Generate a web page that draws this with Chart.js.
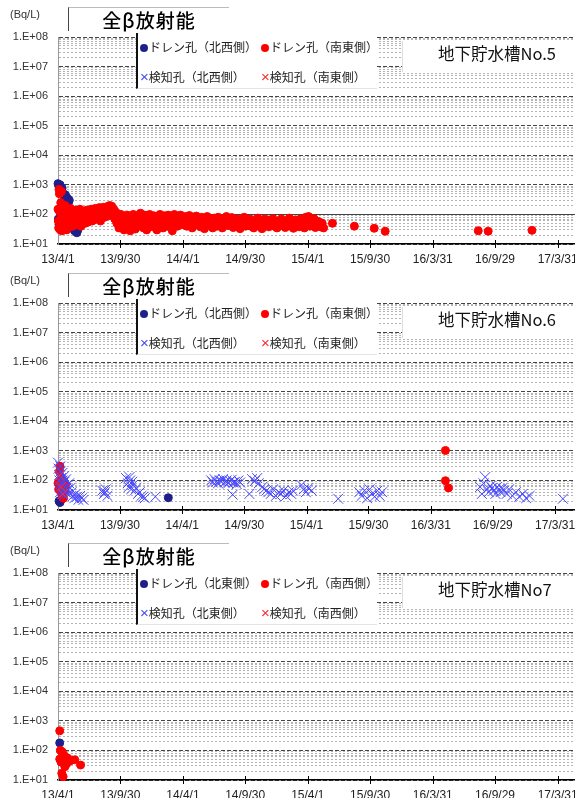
<!DOCTYPE html>
<html><head><meta charset="utf-8">
<script src="https://cdn.jsdelivr.net/npm/chart.js@4"></script>
<style>
html,body{margin:0;padding:0;background:#fff;overflow:hidden;width:575px;height:798px;position:relative;}
.panel{position:absolute;left:0;width:640px;height:268px;}
.panel canvas{position:absolute;left:0;top:0;}
.unit{position:absolute;left:10px;top:8px;font:11px "Liberation Sans",Arial,sans-serif;color:#333;}
.ttl{position:absolute;left:68px;top:7px;width:160px;height:23px;border-left:1px solid #444;border-top:1px solid #bbb;background:#fff;font:19px "Noto Sans CJK JP";font-weight:500;line-height:23px;text-align:center;color:#000;letter-spacing:1px;}
.leg{position:absolute;left:136px;top:33px;width:239px;height:55px;border-left:2px solid #111;border-bottom:1px solid #e4e4e4;background:#fff;font:12px "Noto Sans CJK JP";color:#222;}
.item{position:absolute;white-space:nowrap;line-height:16px;}
.dot{display:inline-block;width:8px;height:8px;border-radius:50%;margin:0 1px 1px 0;vertical-align:middle;}
.xm{font:15px "Liberation Sans",Arial,sans-serif;margin-right:0;}
.name{position:absolute;left:402px;top:41px;width:240px;height:31px;background:#fff;border-left:1px solid #ddd;}
.name span{position:absolute;left:35px;top:0;line-height:31px;font:16.5px "Noto Sans CJK JP";color:#111;white-space:nowrap;}
</style>
</head><body>
<script>
// ---------- data (x = days since 2013/4/1, y = Bq/L) ----------
const xTickDays   = [0, 182, 365, 547, 730, 912, 1095, 1277, 1460];
const xTickLabels = ["13/4/1","13/9/30","14/4/1","14/9/30","15/4/1","15/9/30","16/3/31","16/9/29","17/3/31"];
const yTickLabels = ["1.E+01","1.E+02","1.E+03","1.E+04","1.E+05","1.E+06","1.E+07","1.E+08"];

// 地下貯水槽No.5
const no5_drainNW = [[0,1100],[2,950],[4,800],[6,1000],[8,850],[10,700],[12,780],[15,520],[18,400],[20,300],[22,450],[25,260],[28,350],[30,240],[33,300],[36,53],[40,45],[44,35],[48,28],[52,40],[55,24],[58,30],[1,70],[3,45]];
const no5_drainSE = [[0,150],[1,60],[2,35],[3,700],[4,500],[5,120],[6,40],[7,30],[8,250],[9,80],[10,600],[11,45],[12,28],[14,170],[15,90],[16,55],[18,140],[19,35],[21,200],[22,60],[24,110],[25,30],[27,150],[28,45],[30,80],[32,130],[33,38],[35,70],[37,160],[39,50],[41,100],[43,40],[45,120],[47,60],[50,90],
[52,140],[55,45],[58,110],[61,60],[64,150],[67,40],[70,120],[73,70],[76,130],[79,50],[82,100],[85,140],[88,55],[91,120],[94,80],[97,150],[100,60],[103,130],[106,90],[109,160],[112,70],[115,140],[118,100],[121,170],[124,60],[127,150],[130,110],[133,175],[136,80],[139,160],[142,120],[145,185],[148,90],[151,200],[154,130],[157,190],[160,100],[163,150],[166,70],[169,120],
[172,50],[175,90],[178,35],[181,75],[184,100],[187,40],[190,65],[193,30],[196,85],[199,50],[202,95],[205,35],[208,70],[211,28],[214,80],[217,45],[220,100],[223,55],[226,32],[229,75],[232,90],[235,40],[238,65],[241,110],[244,50],[247,80],[250,35],[253,95],[256,60],[259,30],[262,85],[265,45],[268,100],[271,55],[274,75],[277,38],[280,90],[283,50],[286,70],[289,30],[292,85],[295,60],[298,100],[301,45],[304,75],[307,35],[310,90],[313,55],[316,70],[319,40],[322,95],[325,60],[328,80],[331,45],[334,28],[337,70],[340,100],[343,55],[346,85],[349,40],[352,75],[355,60],[358,95],[361,45],[364,70],
[368,50],[372,85],[376,40],[380,70],[384,92],[388,55],[392,35],[396,75],[400,60],[404,88],[408,45],[412,70],[416,38],[420,80],[424,55],[428,33],[432,65],[436,85],[440,45],[444,70],[448,50],[452,35],[456,75],[460,60],[464,40],[468,80],[472,50],[476,65],[480,35],[484,72],[488,55],[492,85],[496,42],[500,65],[504,50],[508,78],[512,36],[516,60],[520,45],[524,70],[528,55],[532,33],[536,65],[540,50],[544,80],[548,40],[552,60],[556,45],
[560,70],[564,40],[568,55],[572,35],[576,65],[580,50],[584,75],[588,40],[592,60],[596,33],[600,55],[604,70],[608,45],[612,60],[616,38],[620,65],[624,50],[628,72],[632,40],[636,55],[640,35],[644,60],[648,48],[652,70],[656,42],[660,55],[664,36],[668,62],[672,45],[676,75],[680,40],[684,58],[688,34],[692,65],[696,48],[700,55],[704,38],[708,70],[712,45],[716,60],[720,35],[724,80],[728,50],[732,85],[736,40],[740,65],[744,48],[748,72],[752,36],[756,60],[760,45],[764,55],[768,38],[772,50],[776,35],
[802,50],[866,40],[924,34],[956,27],[1228,28],[1257,27],[1385,29]];
const no5_checkNW = [];
const no5_checkSE = [];

// 地下貯水槽No.6
const no6_drainNW = [[3,20],[6,18],[9,22],[324,26]];
const no6_drainSE = [[0,80],[2,50],[4,200],[6,300],[8,40],[10,120],[12,30],[14,60],[16,25],[18,90],[20,45],[22,70],[1138,1030],[1138,98],[1147,56]];
const no6_checkNW = [[0,400],[2,250],[3,150],[4,100],[5,60],[6,40],[7,300],[8,200],[9,120],[10,80],[11,50],[12,35],[13,180],[14,100],[15,70],[16,45],[17,30],[18,140],[19,90],[20,60],[22,40],[24,110],[26,70],[28,50],[30,35],[33,80],[36,55],[40,40],[44,30],[48,25],[52,35],[56,28],[60,22],[65,30],[70,25],[75,22],
[130,45],[135,35],[138,40],[140,50],[145,30],
[200,120],[205,80],[208,60],[210,130],[212,100],[215,50],[218,90],[220,70],[225,45],[230,55],[235,35],[240,40],[245,30],[250,28],[255,25],[286,28],
[450,100],[455,85],[460,110],[465,90],[470,80],[475,100],[480,95],[485,110],[490,85],[495,100],[500,80],[505,95],[510,105],[513,33],[515,85],[520,90],[525,75],[530,100],[535,85],[562,35],
[570,110],[578,95],[585,120],[590,80],[600,60],[605,50],[612,45],[618,40],[625,35],[632,50],[640,30],[648,40],[655,35],[662,45],[670,30],[678,40],[685,35],[690,45],
[715,70],[722,50],[728,40],[735,55],[745,45],[823,24],
[885,40],[892,30],[900,45],[908,25],[915,50],[922,35],[930,28],[938,45],[945,30],[952,40],
[1240,60],[1245,35],[1250,80],[1255,130],[1260,50],[1265,40],[1270,65],[1275,55],[1280,45],[1285,35],[1290,60],[1295,50],[1300,40],[1305,55],[1310,45],[1318,35],[1325,50],[1335,30],[1345,40],[1355,28],[1365,35],[1375,25],[1385,30],[1483,24]];
const no6_checkSE = [[5,150],[10,60],[15,35]];

// 地下貯水槽No7
const no7_drainNE = [[5,180]];
const no7_drainSW = [[5,460],[7,100],[12,90],[17,70],[5,51],[35,44],[49,48],[66,32],[25,35],[11,17],[15,13],[20,28],[28,55],[9,40]];
const no7_checkNE = [];
const no7_checkSW = [];

// ---------- drawing ----------
const NAVY = '#1f1f8c', RED = '#ff0000', BLUE = '#4646ff', REDX = '#ff2a2a';
const DAY_MAX = 1686;
const yTickValues = [];
for (let e = 1; e <= 8; e++) { for (let m = 1; m <= 9; m++) { if (e === 8 && m > 1) break; yTickValues.push(m * Math.pow(10, e)); } }
const isMajor = v => { const e = Math.round(Math.log10(v)); return Math.abs(v - Math.pow(10, e)) < 1e-6 * v; };

const crossTicks = {
  id: 'crossTicks',
  afterDraw(chart) {
    const s = chart.scales.x, ctx = chart.ctx, y = chart.chartArea.bottom;
    ctx.save(); ctx.strokeStyle = '#000'; ctx.lineWidth = 1;
    s.ticks.forEach(t => {
      if (t.value === 0) return;
      const x = Math.round(s.getPixelForValue(t.value)) + 0.5;
      ctx.beginPath(); ctx.moveTo(x, y - 4); ctx.lineTo(x, y + 4); ctx.stroke();
    });
    ctx.restore();
  }
};

const toPts = a => a.map(p => ({x: p[0], y: p[1]}));

function makePanel(top, names, nameText, series, solidAt) {
  const div = document.createElement('div');
  div.className = 'panel'; div.style.top = top + 'px';
  div.innerHTML =
    '<canvas width="640" height="268"></canvas>' +
    '<div class="unit">(Bq/L)</div>' +
    '<div class="ttl">全β放射能</div>' +
    '<div class="leg">' +
      '<span class="item" style="left:2px;top:6px"><span class="dot" style="background:' + NAVY + '"></span>' + names[0] + '</span>' +
      '<span class="item" style="left:123px;top:6px"><span class="dot" style="background:' + RED + '"></span>' + names[1] + '</span>' +
      '<span class="item" style="left:2px;top:35px"><span class="xm" style="color:' + BLUE + '">×</span>' + names[2] + '</span>' +
      '<span class="item" style="left:123px;top:35px"><span class="xm" style="color:' + REDX + '">×</span>' + names[3] + '</span>' +
    '</div>' +
    '<div class="name"><span>' + nameText + '</span></div>';
  document.body.appendChild(div);
  const canvas = div.querySelector('canvas');
  new Chart(canvas, {
    type: 'scatter',
    data: {
      datasets: [
        {label: names[3], data: toPts(series[3]), pointStyle: 'crossRot', pointRadius: 7, borderColor: REDX, borderWidth: 1, backgroundColor: REDX, order: 0, clip: false},
        {label: names[2], data: toPts(series[2]), pointStyle: 'crossRot', pointRadius: 7, borderColor: BLUE, borderWidth: 1, backgroundColor: BLUE, order: 1, clip: false},
        {label: names[1], data: toPts(series[1]), pointStyle: 'circle', pointRadius: 4, borderColor: RED, borderWidth: 1, backgroundColor: RED, order: 2, clip: false},
        {label: names[0], data: toPts(series[0]), pointStyle: 'circle', pointRadius: 4, borderColor: NAVY, borderWidth: 1, backgroundColor: NAVY, order: 3, clip: false}
      ]
    },
    options: {
      responsive: false, animation: false, events: [], devicePixelRatio: 1,
      layout: {padding: {top: 37, left: 0, right: 0, bottom: 0}},
      plugins: {legend: {display: false}, tooltip: {enabled: false}, title: {display: false}},
      scales: {
        x: {
          type: 'linear', min: 0, max: DAY_MAX,
          afterBuildTicks: s => { s.ticks = xTickDays.map(v => ({value: v})); },
          afterFit: s => { s.height = 24; },
          ticks: {autoSkip: false, maxRotation: 0, padding: 8, color: '#222',
                  font: {family: '"Liberation Sans", Arial, sans-serif', size: 12},
                  callback: v => { const i = xTickDays.indexOf(v); return i >= 0 ? xTickLabels[i] : ''; }},
          grid: {drawOnChartArea: false, drawTicks: false},
          border: {color: '#000', width: 1.5}
        },
        y: {
          type: 'logarithmic', min: 10, max: 1e8,
          afterBuildTicks: s => { s.ticks = yTickValues.map(v => ({value: v})); },
          afterFit: s => { s.width = 58; },
          ticks: {autoSkip: false, padding: 10, color: '#333',
                  font: {family: '"Liberation Sans", Arial, sans-serif', size: 11},
                  callback: v => isMajor(v) ? yTickLabels[Math.round(Math.log10(v)) - 1] : ''},
          grid: {drawTicks: false, lineWidth: 1,
                 color: c => (c.tick && isMajor(c.tick.value)) ? '#444' : '#b4b4b4'},
          border: {color: '#999', width: 1,
                   dash: c => (c.tick && solidAt && Math.abs(c.tick.value - solidAt) < 1e-6) ? [] : (c.tick && isMajor(c.tick.value) ? [4, 2] : [2, 2])}
        }
      }
    },
    plugins: [crossTicks]
  });
}

makePanel(0, ['ドレン孔（北西側）','ドレン孔（南東側）','検知孔（北西側）','検知孔（南東側）'], '地下貯水槽No.5',
  [no5_drainNW, no5_drainSE, no5_checkNW, no5_checkSE], 100);
makePanel(266, ['ドレン孔（北西側）','ドレン孔（南東側）','検知孔（北西側）','検知孔（南東側）'], '地下貯水槽No.6',
  [no6_drainNW, no6_drainSE, no6_checkNW, no6_checkSE], null);
makePanel(536, ['ドレン孔（北東側）','ドレン孔（南西側）','検知孔（北東側）','検知孔（南西側）'], '地下貯水槽No7',
  [no7_drainNE, no7_drainSW, no7_checkNE, no7_checkSW], null);
</script>
</body></html>
